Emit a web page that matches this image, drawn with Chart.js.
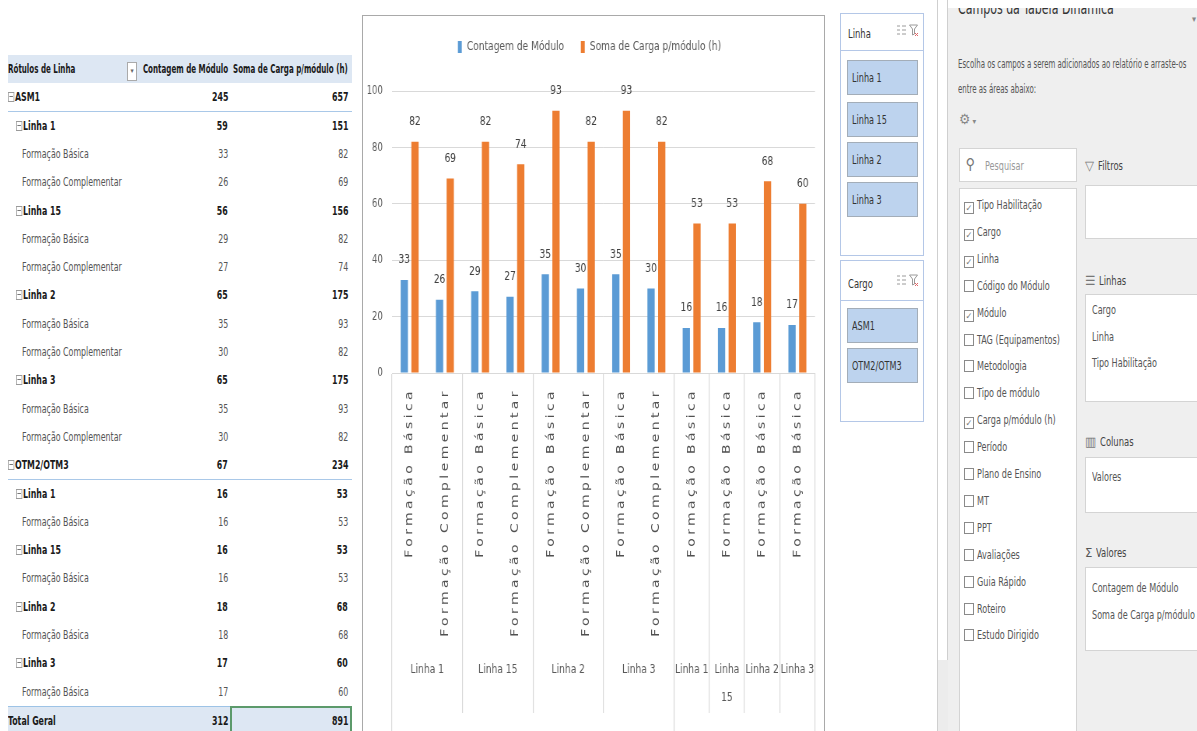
<!DOCTYPE html>
<html lang="pt-BR">
<head>
<meta charset="utf-8">
<title>Tabela dinâmica – Módulos por Linha</title>
<script src="https://cdn.jsdelivr.net/npm/chart.js@4/dist/chart.umd.min.js"></script>
<style>
  html, body { margin: 0; padding: 0; }
  body { width: 1197px; height: 731px; overflow: hidden; background: #fff; position: relative;
         font-family: 'DejaVu Sans Condensed', 'Liberation Sans', sans-serif; }
  .abs { position: absolute; }
  /* condensed text */
  .sq { display: inline-block; white-space: nowrap; transform-origin: 0 50%; }
  .sq.r { transform-origin: 100% 50%; }
  /* pivot table */
  .prow { position: absolute; left: 0; width: 352px; font-size: 12.5px; color: #555; white-space: nowrap; }
  .prow.bold { color: #1a1a1a; font-weight: bold; }
  .prow .lbl { position: absolute; top: 0; }
  .prow .c1 { position: absolute; right: 124px; top: 0; text-align: right; }
  .prow .c2 { position: absolute; right: 4px; top: 0; text-align: right; }
  .tog { display: inline-block; width: 7px; height: 8px; border: 1px solid #9a9a9a; margin-right: 1px;
         position: relative; top: 1px; }
  .tog::after { content: ''; position: absolute; left: 1px; right: 1px; top: 3px; height: 1px; background: #777; }
  /* chart frame */
  #frame { position: absolute; left: 362px; top: 15px; width: 461px; height: 760px; border: 1px solid #a9a9a9; border-bottom: none; }
  #chartBox { position: absolute; left: 364px; top: 17px; width: 590px; height: 756px; transform: scaleX(0.778); transform-origin: 0 0; }
  /* slicers */
  .slicer { position: absolute; left: 840px; width: 82px; border: 1px solid #b4c7e7; background: #fff; }
  .slicer .head { position: absolute; left: 0; right: 0; top: 0; height: 36px; border-bottom: 1px solid #b4c7e7; }
  .slicer .head .t { position: absolute; left: 7px; top: 12px; font-size: 13px; color: #333; }
  .slicer .btn { position: absolute; left: 6px; width: 71px; height: 35px; background: #bdd3ee; border: 1px solid #a3adb8;
                 font-size: 12.5px; color: #333; line-height: 33px; padding-left: 4px; box-sizing: border-box; }
  .slicer svg { position: absolute; top: 10px; }
  /* field list panel */
  #strip { position: absolute; left: 937px; top: 0; width: 9px; height: 660px; border-left: 1px solid #cfcfcf; border-right: 1px solid #cfcfcf; background: #fff; }
  #strip2 { position: absolute; left: 937px; top: 660px; width: 11px; height: 71px; background: #ececec; border-left: 1px solid #cfcfcf; }
  #panel { position: absolute; left: 948px; top: 8px; width: 249px; height: 723px; background: #efefef; overflow: hidden; color: #444; font-size: 12.5px; }
  #panel .ttl { position: absolute; left: 10px; top: -10px; font-size: 17px; color: #333; }
  #panel .desc { position: absolute; left: 10px; top: 43px; line-height: 25px; color: #555; font-size: 13px; }
  #panel .box { position: absolute; background: #fff; border: 1px solid #d4d4d4; box-sizing: border-box; }
  #panel .item { position: absolute; left: 4px; white-space: nowrap; color: #555; }
  .chk { display: inline-block; width: 8px; height: 10px; border: 1px solid #8a8a8a; background: #fff; margin-right: 3px;
         position: relative; top: 2px; font-size: 9px; line-height: 10px; text-align: center; color: #777; }
  #panel .alab { position: absolute; left: 137px; color: #444; font-size: 13px; }
  #panel .aval { position: absolute; left: 6px; color: #555; }
</style>
</head>
<body>

<!-- pivot table -->
<div id="pivot"></div>

<!-- chart -->
<div id="frame"></div>
<div id="chartBox"><canvas id="chart"></canvas></div>

<!-- slicers -->
<div class="slicer" style="top:13px;height:241px;">
  <div class="head"><span class="t"><span class="sq" style="transform:scaleX(0.72)">Linha</span></span>
    <svg style="left:56px" width="9" height="14" viewBox="0 0 9 14"><g stroke="#9a9a9a" stroke-width="1"><path d="M0 2h3M0 6h3M0 10h3M5 2h4M5 6h4M5 10h4"/></g></svg>
    <svg style="left:68px" width="10" height="14" viewBox="0 0 10 14"><path d="M0.5 1h8l-3 4v5l-2 1v-6z" fill="none" stroke="#9a9a9a"/><path d="M6 9l3 3M9 9l-3 3" stroke="#e06666"/></svg>
  </div>
  <div class="btn" style="top:46px"><span class="sq" style="transform:scaleX(0.72)">Linha 1</span></div>
  <div class="btn" style="top:88px"><span class="sq" style="transform:scaleX(0.72)">Linha 15</span></div>
  <div class="btn" style="top:128px"><span class="sq" style="transform:scaleX(0.72)">Linha 2</span></div>
  <div class="btn" style="top:168px"><span class="sq" style="transform:scaleX(0.72)">Linha 3</span></div>
</div>
<div class="slicer" style="top:260px;height:160px;">
  <div class="head" style="height:39px"><span class="t" style="top:15px"><span class="sq" style="transform:scaleX(0.72)">Cargo</span></span>
    <svg style="left:56px;top:13px" width="9" height="14" viewBox="0 0 9 14"><g stroke="#9a9a9a" stroke-width="1"><path d="M0 2h3M0 6h3M0 10h3M5 2h4M5 6h4M5 10h4"/></g></svg>
    <svg style="left:68px;top:13px" width="10" height="14" viewBox="0 0 10 14"><path d="M0.5 1h8l-3 4v5l-2 1v-6z" fill="none" stroke="#9a9a9a"/><path d="M6 9l3 3M9 9l-3 3" stroke="#e06666"/></svg>
  </div>
  <div class="btn" style="top:47px"><span class="sq" style="transform:scaleX(0.72)">ASM1</span></div>
  <div class="btn" style="top:87px"><span class="sq" style="transform:scaleX(0.72)">OTM2/OTM3</span></div>
</div>

<!-- field list -->
<div id="strip"></div>
<div id="strip2"></div>
<div id="panel">
  <div class="ttl"><span class="sq" style="transform:scaleX(0.72)">Campos da Tabela Dinâmica</span></div>
  <div class="abs" style="left:244px;top:6px;font-size:9px;color:#888;">▾</div>
  <div class="desc"><span class="sq" style="transform:scaleX(0.6)">Escolha os campos a serem adicionados ao relatório e arraste-os</span><br><span class="sq" style="transform:scaleX(0.6)">entre as áreas abaixo:</span></div>
  <div class="abs" style="left:11px;top:103px;font-size:14px;color:#888;">⚙<span style="font-size:8px"> ▾</span></div>
  <div class="box" style="left:11px;top:140px;width:118px;height:34px;">
    <span class="abs" style="left:5px;top:6px;font-size:15px;color:#777;transform:scaleX(-1);">⚲</span>
    <span class="abs" style="left:25px;top:9px;color:#999;"><span class="sq" style="transform:scaleX(0.72)">Pesquisar</span></span>
  </div>
  <div class="box" id="fields" style="left:11px;top:180px;width:118px;height:560px;"></div>

  <div class="alab" style="top:150px"><span style="color:#777">▽</span> <span class="sq" style="transform:scaleX(0.72)">Filtros</span></div>
  <div class="box" style="left:137px;top:177px;width:120px;height:54px;"></div>

  <div class="alab" style="top:265px"><span style="color:#777">☰</span> <span class="sq" style="transform:scaleX(0.72)">Linhas</span></div>
  <div class="box" id="areaRows" style="left:137px;top:286px;width:120px;height:108px;"></div>

  <div class="alab" style="top:426px"><span style="color:#777">▥</span> <span class="sq" style="transform:scaleX(0.72)">Colunas</span></div>
  <div class="box" id="areaCols" style="left:137px;top:449px;width:120px;height:56px;"></div>

  <div class="alab" style="top:537px"><span style="color:#555">Σ</span> <span class="sq" style="transform:scaleX(0.72)">Valores</span></div>
  <div class="box" id="areaVals" style="left:137px;top:559px;width:120px;height:84px;"></div>
</div>

<script>
// ---- data ----
const cargos = ['ASM1', 'OTM2/OTM3'];
const cargoSpans = [8, 4];
const linhas = ['Linha 1', 'Linha 15', 'Linha 2', 'Linha 3', 'Linha 1', 'Linha 15', 'Linha 2', 'Linha 3'];
const linhaSpans = [2, 2, 2, 2, 1, 1, 1, 1];
const tipos = [
  'Formação Básica', 'Formação Complementar',
  'Formação Básica', 'Formação Complementar',
  'Formação Básica', 'Formação Complementar',
  'Formação Básica', 'Formação Complementar',
  'Formação Básica', 'Formação Básica', 'Formação Básica', 'Formação Básica'
];
const contagem = [33, 26, 29, 27, 35, 30, 35, 30, 16, 16, 18, 17];
const carga = [82, 69, 82, 74, 93, 82, 93, 82, 53, 53, 68, 60];
const yTicks = [0, 20, 40, 60, 80, 100];
const seriesNames = ['Contagem de Módulo', 'Soma de Carga p/módulo (h)'];

const campos = ['Tipo Habilitação', 'Cargo', 'Linha', 'Código do Módulo', 'Módulo', 'TAG (Equipamentos)', 'Metodologia',
  'Tipo de módulo', 'Carga p/módulo (h)', 'Período', 'Plano de Ensino', 'MT', 'PPT', 'Avaliações', 'Guia Rápido',
  'Roteiro', 'Estudo Dirigido'];
const camposMarcados = ['Tipo Habilitação', 'Cargo', 'Linha', 'Módulo', 'Carga p/módulo (h)'];
const areaLinhas = ['Cargo', 'Linha', 'Tipo Habilitação'];
const areaColunas = ['Valores'];
const areaValores = ['Contagem de Módulo', 'Soma de Carga p/módulo (...'];

const sum = a => a.reduce((p, v) => p + v, 0);

function squeezed(text, scale, right) {
  const s = document.createElement('span');
  s.className = 'sq' + (right ? ' r' : '');
  s.style.transform = `scaleX(${scale})`;
  s.textContent = text;
  return s;
}

// ---- pivot table ----
(function buildPivot() {
  const host = document.getElementById('pivot');
  const rowH = 28.3, top0 = 55, SQ = 0.7;
  let r = 0;
  function addRow(o) {
    const d = document.createElement('div');
    d.className = 'prow' + (o.bold ? ' bold' : '');
    d.style.top = (top0 + r * rowH) + 'px';
    d.style.height = rowH + 'px';
    d.style.lineHeight = rowH + 'px';
    if (o.size) d.style.fontSize = o.size + 'px';
    const sq = o.sq || SQ;
    const indent = [8, 16, 22][o.level || 0];
    const lbl = document.createElement('span');
    lbl.className = 'lbl';
    lbl.style.left = indent + 'px';
    const inner = document.createElement('span');
    inner.className = 'sq';
    inner.style.transform = `scaleX(${sq})`;
    if (o.toggle) { const t = document.createElement('span'); t.className = 'tog'; inner.appendChild(t); }
    inner.appendChild(document.createTextNode(o.text));
    lbl.appendChild(inner);
    d.appendChild(lbl);
    const c1 = document.createElement('span'); c1.className = 'c1'; c1.appendChild(squeezed(String(o.c), sq, true)); d.appendChild(c1);
    const c2 = document.createElement('span'); c2.className = 'c2'; c2.appendChild(squeezed(String(o.s), sq, true)); d.appendChild(c2);
    if (o.header || o.total) {
      d.style.background = '#dde7f3'; d.style.left = '8px'; d.style.width = '344px'; lbl.style.left = '0px';
    }
    if (o.total) d.style.borderTop = '1px solid #9dc3e6';
    host.appendChild(d);
    if (o.line) {
      const ln = document.createElement('div');
      ln.className = 'abs';
      ln.style.cssText = `left:8px;width:344px;height:1px;background:#a9c8e8;top:${top0 + (r + 1) * rowH - 1}px`;
      host.appendChild(ln);
    }
    r++;
    return d;
  }
  const hd = addRow({ text: 'Rótulos de Linha', c: 'Contagem de Módulo', s: 'Soma de Carga p/módulo (h)',
                      bold: true, header: true, size: 12, sq: 0.66 });
  const dd = document.createElement('div');
  dd.className = 'abs';
  dd.style.cssText = 'left:119px;top:7px;width:8px;height:17px;border:1px solid #aaa;background:#fff;font-size:7px;line-height:17px;text-align:center;color:#666;font-weight:normal;';
  dd.textContent = '▾';
  hd.appendChild(dd);

  let idx = 0, li = 0;
  cargos.forEach((cg, ci) => {
    const end = idx + cargoSpans[ci];
    addRow({ text: cg, level: 0, toggle: true, bold: true, line: true,
             c: sum(contagem.slice(idx, end)), s: sum(carga.slice(idx, end)) });
    while (idx < end) {
      const span = linhaSpans[li];
      addRow({ text: linhas[li], level: 1, toggle: true, bold: true,
               c: sum(contagem.slice(idx, idx + span)), s: sum(carga.slice(idx, idx + span)) });
      for (let k = 0; k < span; k++) {
        addRow({ text: tipos[idx + k], level: 2, c: contagem[idx + k], s: carga[idx + k] });
      }
      idx += span; li++;
    }
  });
  const tot = addRow({ text: 'Total Geral', bold: true, total: true, c: sum(contagem), s: sum(carga) });
  const sel = document.createElement('div');
  sel.className = 'abs';
  sel.style.cssText = 'left:222px;top:-1px;width:118px;height:27px;border:2px solid #5c9a6b;';
  tot.appendChild(sel);
})();

// ---- field list ----
(function buildFields() {
  const box = document.getElementById('fields');
  campos.forEach((f, i) => {
    const d = document.createElement('div');
    d.className = 'item';
    d.style.top = (8 + i * 26.9) + 'px';
    const c = document.createElement('span');
    c.className = 'chk';
    if (camposMarcados.includes(f)) c.textContent = '✓';
    d.appendChild(c);
    d.appendChild(squeezed(f, 0.72));
    box.appendChild(d);
  });
  function fill(id, list, t0) {
    const b = document.getElementById(id);
    list.forEach((s, i) => {
      const d = document.createElement('div');
      d.className = 'aval';
      d.style.top = (t0 + i * 26.5) + 'px';
      d.appendChild(squeezed(s, 0.72));
      b.appendChild(d);
    });
  }
  fill('areaRows', areaLinhas, 7);
  fill('areaCols', areaColunas, 11);
  fill('areaVals', areaValores, 12);
})();

// ---- chart ----
const FONT = "'DejaVu Sans Condensed', 'Liberation Sans', sans-serif";
const GRID = '#d9d9d9';
const TEXT = '#595959';
const CLEAR = 'rgba(0,0,0,0)';

// boundaries / centers of grouped categories on a -0.5 … n-0.5 value range
function groupLayout(spans, names) {
  const bounds = [-0.5], centers = new Map();
  let pos = -0.5;
  spans.forEach((s, i) => {
    const label = (s === 1 && names[i].length > 7) ? names[i].split(' ') : names[i];
    centers.set(pos + s / 2, label);
    pos += s;
    bounds.push(pos);
  });
  return { bounds, centers };
}
const linhaGroups = groupLayout(linhaSpans, linhas);
const cargoGroups = groupLayout(cargoSpans, cargos);
// category-index boundaries where a Linha group starts/ends
const innerBreaks = new Set(linhaGroups.bounds.map(v => v + 0.5));

function groupAxis(groups, weight, height, pad) {
  const all = [...groups.bounds, ...groups.centers.keys()].sort((a, b) => a - b);
  const lo = -0.5, hi = tipos.length - 0.5;
  return {
    type: 'linear', position: 'bottom', weight: weight, bounds: 'data', offset: false,
    min: lo, max: hi,
    afterBuildTicks: s => { s.ticks = all.map(v => ({ value: v })); s.min = lo; s.max = hi; },
    afterFit: s => { s.height = height; },
    border: { display: false },
    grid: {
      offset: false, drawOnChartArea: false, tickLength: height, lineWidth: 1.2,
      color: c => (c.tick && groups.bounds.includes(c.tick.value)) ? GRID : CLEAR
    },
    ticks: {
      autoSkip: false, maxRotation: 0, minRotation: 0, padding: pad, color: TEXT,
      font: { family: FONT, size: 13, lineHeight: 2.1 },
      callback: v => groups.centers.has(v) ? groups.centers.get(v) : ''
    }
  };
}

const X_TIER = 277;

const valueLabels = {
  id: 'valueLabels',
  afterDatasetsDraw(chart) {
    const { ctx } = chart;
    ctx.save();
    ctx.font = `13px ${FONT}`;
    ctx.fillStyle = '#404040';
    ctx.textAlign = 'center';
    ctx.textBaseline = 'middle';
    chart.data.datasets.forEach((ds, di) => {
      chart.getDatasetMeta(di).data.forEach((bar, i) => {
        ctx.fillText(String(ds.data[i]), bar.x, bar.y - 20);
      });
    });
    ctx.restore();
  }
};

// wider tracking for the rotated category names
const spacedTicks = {
  id: 'spacedTicks',
  beforeDraw(chart) {
    const sc = chart.scales.x;
    if (!sc || sc._spaced) return;
    const orig = sc.drawLabels.bind(sc);
    sc.drawLabels = function (area) {
      const c = chart.ctx;
      c.save();
      c.letterSpacing = '3.4px';
      orig(area);
      c.restore();
    };
    sc._spaced = true;
  }
};

// extra room between the legend and the plot
const legendGap = {
  id: 'legendGap',
  beforeLayout(chart) {
    const lg = chart.legend;
    if (!lg || lg._gapped) return;
    const fit = lg.fit.bind(lg);
    lg.fit = function () { fit(); this.height += 27.5; };
    lg._gapped = true;
  }
};

new Chart(document.getElementById('chart'), {
  type: 'bar',
  data: {
    labels: tipos,
    datasets: [
      { label: seriesNames[0], data: contagem, backgroundColor: '#5b9bd5', categoryPercentage: 0.606, barPercentage: 0.68 },
      { label: seriesNames[1], data: carga, backgroundColor: '#ed7d31', categoryPercentage: 0.606, barPercentage: 0.68 }
    ]
  },
  options: {
    responsive: true,
    maintainAspectRatio: false,
    animation: false,
    layout: { padding: { top: 2, right: 10.3, left: 0, bottom: 0 } },
    plugins: {
      legend: {
        position: 'top',
        labels: { boxWidth: 5, boxHeight: 12, padding: 21.5, color: TEXT, font: { family: FONT, size: 13 } }
      },
      tooltip: { enabled: false }
    },
    scales: {
      x: {
        type: 'category', position: 'bottom', weight: 0, offset: true,
        afterFit: s => { s.height = X_TIER; },
        border: { display: true, color: GRID },
        grid: {
          offset: true, drawOnChartArea: false, tickLength: X_TIER, lineWidth: 1.2,
          color: c => (c.type === 'scale' || innerBreaks.has(c.index)) ? GRID : CLEAR
        },
        ticks: {
          autoSkip: false, minRotation: 90, maxRotation: 90, padding: 17 - X_TIER - 2, color: '#505050',
          font: { family: "'DejaVu Sans', sans-serif", size: 14 }
        }
      },
      x2: groupAxis(linhaGroups, 1, 63, 6.4 - 63),
      x3: groupAxis(cargoGroups, 2, 60, 20 - 60),
      y: {
        min: 0, max: 100,
        afterBuildTicks: s => { s.ticks = yTicks.map(v => ({ value: v })); },
        afterFit: s => { s.width = 36; },
        border: { display: false },
        grid: { color: GRID, drawTicks: false, lineWidth: 1 },
        ticks: { padding: 12, color: TEXT, font: { family: FONT, size: 12 } }
      }
    }
  },
  plugins: [valueLabels, spacedTicks, legendGap]
});
</script>
</body>
</html>
